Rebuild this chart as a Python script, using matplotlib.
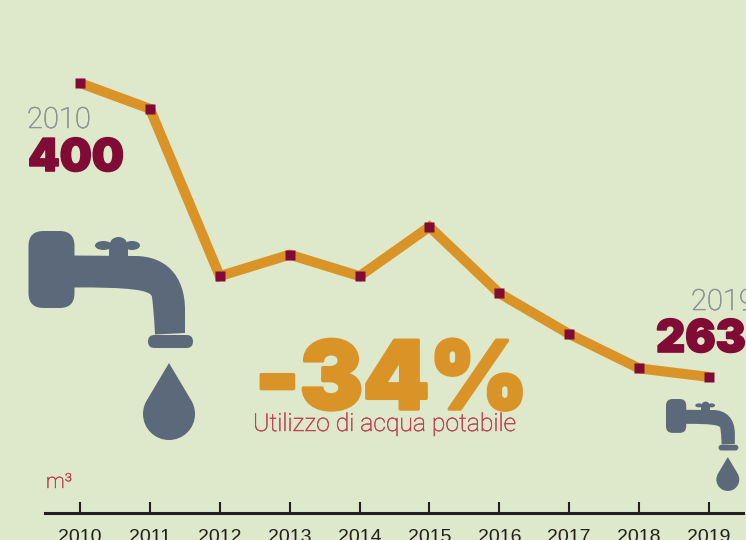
import matplotlib
matplotlib.use("Agg")

import matplotlib.pyplot as plt
import matplotlib.patheffects as pe
from matplotlib.patches import Ellipse, FancyBboxPatch, PathPatch
from matplotlib.path import Path

years = [2010, 2011, 2012, 2013, 2014, 2015, 2016, 2017, 2018, 2019]
consumo = [400, 388, 310, 320, 310, 333, 302, 283, 267, 263]

BG = "#DEE8CA"
ORANGE = "#D99326"
WINE = "#800C35"
SLATE = "#5C697B"
GREY = "#8F9190"
PINK = "#BF4052"
DARK = "#231F20"

W, H = 746, 540
plt.rcParams["font.family"] = ["Liberation Sans", "DejaVu Sans"]

fig = plt.figure(figsize=(W / 100, H / 100), dpi=100, facecolor=BG)

# asse dati: da x=45 a x=743 px, base a y=513 px
ax = fig.add_axes([45 / W, (H - 513) / H, 698 / W, 513 / H])
ax.patch.set_alpha(0)
ax.set_xlim(2010 - 35 / 69.89, 2010 + 663 / 69.89)
ax.set_ylim(199.6, 438.7)
ax.plot(years, consumo, color=ORANGE, linewidth=7.2, solid_joinstyle="miter",
        solid_capstyle="butt", zorder=2)
ax.plot(years, consumo, linestyle="none", marker="s", markersize=7.2,
        markerfacecolor=WINE, markeredgecolor="none", zorder=3)
for side in ["top", "left", "right"]:
    ax.spines[side].set_visible(False)
ax.spines["bottom"].set_linewidth(2.2)
ax.spines["bottom"].set_color(DARK)
ax.set_yticks([])
ax.set_xticks(years)
ax.tick_params(axis="x", direction="in", length=8, width=1.5, color=DARK,
               labelsize=14, labelcolor=DARK, pad=11.5)

# livello in pixel per icone e scritte
ov = fig.add_axes([0, 0, 1, 1])
ov.set_xlim(0, W)
ov.set_ylim(H, 0)
ov.axis("off")
ov.patch.set_alpha(0)


def rubinetto(x0, y0, s):
    """Disegna il rubinetto con la goccia; x0, y0 = angolo alto a sinistra"""
    def px(x, y):
        return (x0 + (x - 28.5) * s, y0 + (y - 231) * s)

    def add(verts, codes):
        ov.add_patch(PathPatch(Path([px(*v) for v in verts], codes),
                               facecolor=SLATE, edgecolor="none"))

    M, L, C, Z = Path.MOVETO, Path.LINETO, Path.CURVE4, Path.CLOSEPOLY
    # tubo
    add([(70, 255.5), (135, 256), (165, 256), (185, 275), (185, 310), (185, 333),
         (155, 334.5), (154, 315), (153, 305), (152, 297), (151, 290), (130, 287),
         (70, 287.5), (70, 255.5)],
        [M, L, C, C, C, L, L, C, C, C, C, C, L, Z])
    # goccia
    add([(169, 363), (191, 400), (193.5, 404), (195, 409), (195, 414), (195, 428.4),
         (183.4, 440), (169, 440), (154.6, 440), (143, 428.4), (143, 414), (143, 409),
         (144.5, 404), (147, 400), (169, 363)],
        [M, L, C, C, C, C, C, C, C, C, C, C, C, C, Z])
    # attacco a muro e bocca
    for (bx, by, bw, bh, r) in [(28.5, 231, 46, 77, 15), (148, 335, 45, 13, 6.5)]:
        xa, ya = px(bx, by)
        ov.add_patch(FancyBboxPatch((xa + r * s, ya + r * s), (bw - 2 * r) * s, (bh - 2 * r) * s,
                                    boxstyle=f"round,pad={r * s},rounding_size={r * s}",
                                    facecolor=SLATE, edgecolor="none"))
    # manopola
    xa, ya = px(109, 243)
    ov.add_patch(plt.Rectangle((xa, ya), 19 * s, 14 * s, facecolor=SLATE, edgecolor="none"))
    for (ex, ey, ew, eh) in [(103.5, 245.5, 17, 9), (132, 245.5, 16, 9), (118.5, 244, 17, 14)]:
        ov.add_patch(Ellipse(px(ex, ey), ew * s, eh * s, facecolor=SLATE, edgecolor="none"))


rubinetto(28.5, 231, 1)
rubinetto(666, 399, 0.44)

thin = ["Roboto", "Liberation Sans"]
heavy = ["Inter", "Liberation Sans"]


def grosso(colore, spessore):
    return [pe.withStroke(linewidth=spessore, foreground=colore)]


ov.text(27, 128, "2010", fontsize=21, family=thin, weight="light", color=GREY, va="baseline", ha="left",
        path_effects=grosso(GREY, 0.4))
ov.text(28, 171, "400", fontsize=32.5, family=heavy, weight=900, color=WINE, va="baseline", ha="left",
        path_effects=grosso(WINE, 1.2))
ov.text(691, 310, "2019", fontsize=21, family=thin, weight="light", color=GREY, va="baseline", ha="left",
        path_effects=grosso(GREY, 0.4))
ov.text(656, 352, "263", fontsize=32.5, family=heavy, weight=900, color=WINE, va="baseline", ha="left",
        path_effects=grosso(WINE, 1.2))
ov.text(255, 409, "-34%", fontsize=68, family=heavy, weight=900, color=ORANGE, va="baseline", ha="left",
        path_effects=grosso(ORANGE, 2.5))
ov.text(253, 431, "Utilizzo di acqua potabile", fontsize=17.8, family=thin, weight="light",
        color=PINK, va="baseline", ha="left", path_effects=grosso(PINK, 0.35))
ov.text(46, 488, "m³", fontsize=15, family=thin, weight="light", color=PINK, va="baseline", ha="left",
        path_effects=grosso(PINK, 0.35))

fig.savefig("out.png", dpi=100, facecolor=BG)
